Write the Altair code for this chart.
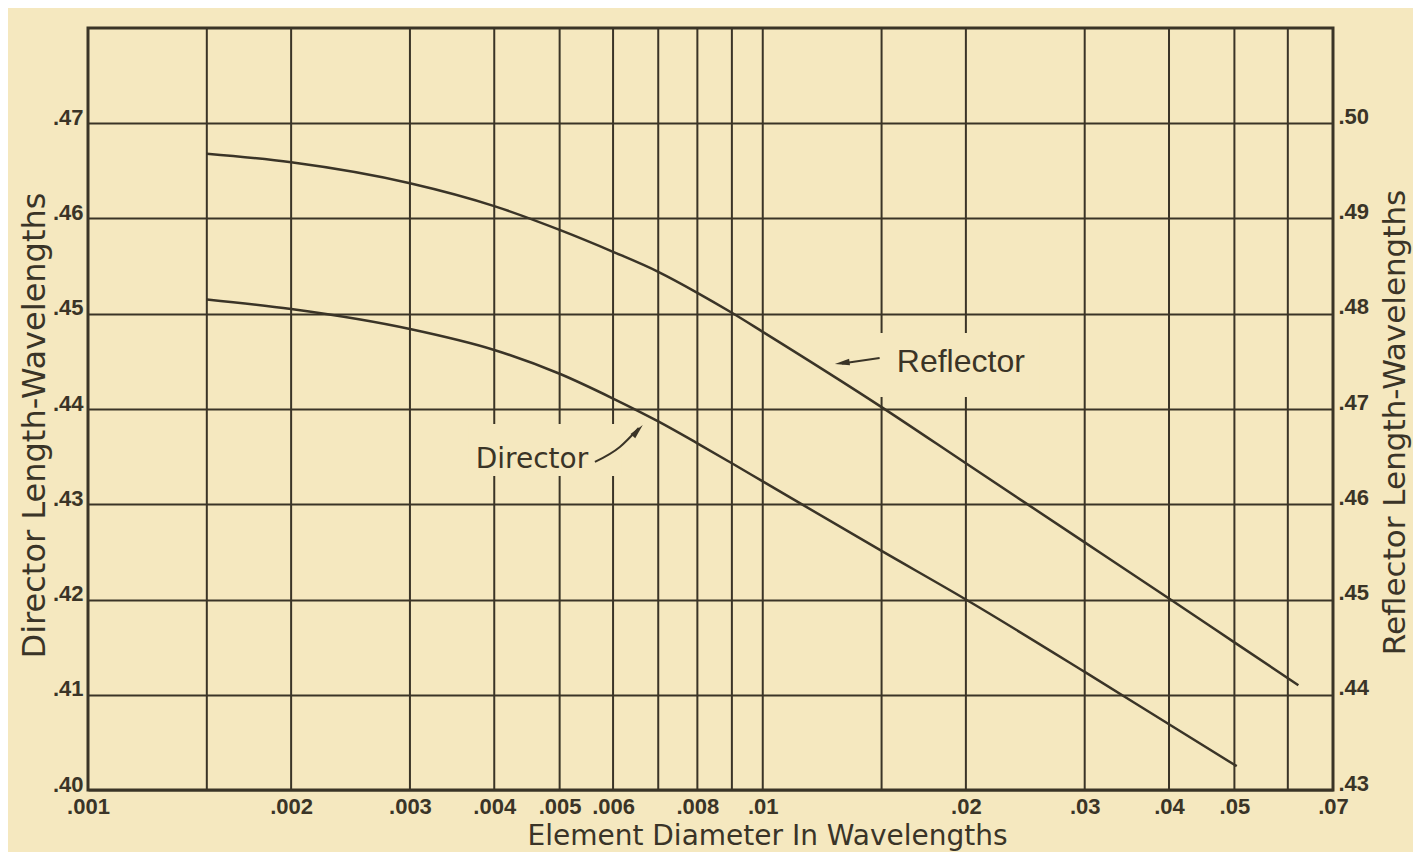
import altair as alt
import pandas as pd

# ---- data ----
x_tick_values = [0.001, 0.002, 0.003, 0.004, 0.005, 0.006, 0.008, 0.01, 0.02, 0.03, 0.04, 0.05, 0.07]
x_grid_values = [0.0015, 0.002, 0.003, 0.004, 0.005, 0.006, 0.007, 0.008, 0.009,
                 0.01, 0.015, 0.02, 0.03, 0.04, 0.05, 0.06]
left_y_values = [0.40, 0.41, 0.42, 0.43, 0.44, 0.45, 0.46, 0.47]
right_y_values = [0.43, 0.44, 0.45, 0.46, 0.47, 0.48, 0.49, 0.50]

reflector_x = [0.0015, 0.002, 0.003, 0.004, 0.005, 0.006, 0.007, 0.008, 0.009, 0.01,
               0.015, 0.02, 0.03, 0.04, 0.05, 0.0622]
reflector_y = [0.4968, 0.4959, 0.4937, 0.4913, 0.4888, 0.4865, 0.4844, 0.4822, 0.4801, 0.4781,
               0.4702, 0.4643, 0.4560, 0.4501, 0.4455, 0.4410]

director_x = [0.0015, 0.002, 0.003, 0.004, 0.005, 0.006, 0.007, 0.008, 0.009, 0.01,
              0.015, 0.02, 0.03, 0.04, 0.0504]
director_y = [0.4515, 0.4505, 0.4484, 0.4462, 0.4437, 0.4411, 0.4387, 0.4364, 0.4343, 0.4324,
              0.4251, 0.4200, 0.4124, 0.4069, 0.4025]

# annotation labels (left-axis units)
label_text = ["Reflector", "Director"]
label_x = [0.0158, 0.00455]
label_y = [0.4449, 0.43465]

# paper masks behind labels (gridlines broken there)
mask_x = [0.0148, 0.00366]
mask_x2 = [0.0257, 0.00618]
mask_y = [0.44798, 0.43843]
mask_y2 = [0.44126, 0.43297]

# arrow shafts
arrow_id = ["r", "r", "d", "d", "d"]
arrow_x = [0.0149, 0.0131, 0.00564, 0.00614, 0.00655]
arrow_y = [0.44535, 0.44478, 0.43444, 0.43601, 0.43800]
# arrow heads
head_x = [0.01279, 0.00664]
head_y = [0.44472, 0.43832]
head_angle = [262, 42]

BG = "#f5e8bf"
INK = "#3a3427"

xscale = alt.Scale(type="log", domain=[0.001, 0.07], nice=False)
yleft = alt.Scale(domain=[0.40, 0.48], nice=False, zero=False)
yright = alt.Scale(domain=[0.43, 0.51], nice=False, zero=False)

grid_df = pd.DataFrame({"x": x_grid_values})
dir_df = pd.DataFrame({"x": director_x, "y": director_y})
refl_df = pd.DataFrame({"x": reflector_x, "y": reflector_y})
lab_df = pd.DataFrame({"t": label_text, "x": label_x, "y": label_y})
mask_df = pd.DataFrame({"x": mask_x, "x2": mask_x2, "y": mask_y, "y2": mask_y2})
arr_df = pd.DataFrame({"id": arrow_id, "x": arrow_x, "y": arrow_y})
head_df = pd.DataFrame({"x": head_x, "y": head_y, "a": head_angle})

x_axis = alt.Axis(
    values=x_tick_values,
    labelExpr="substring(format(datum.value, '~g'), 1)",
    grid=False, ticks=False, domain=False,
    labelFont="Liberation Sans", labelFontSize=22, labelFontWeight="bold",
    labelColor=INK, labelPadding=6, labelFlush=False, labelOverlap=False,
    title="Element Diameter In Wavelengths",
    titleFont="DejaVu Sans", titleFontSize=28, titleFontWeight="normal", titleColor=INK,
    titleX=679, titleY=54, titleAlign="center", titleBaseline="alphabetic",
)

left_axis = alt.Axis(
    values=left_y_values,
    labelExpr="substring(format(datum.value, '.2f'), 1)",
    grid=True, gridColor=INK, gridWidth=2, gridOpacity=1,
    ticks=False, domain=False,
    labelFont="Liberation Sans", labelFontSize=22, labelFontWeight="bold",
    labelColor=INK, labelPadding=5, labelOffset=-6, labelFlush=False, labelOverlap=False,
    title="Director Length-Wavelengths",
    titleFont="DejaVu Sans", titleFontSize=32, titleFontWeight="normal", titleColor=INK,
    titleAngle=270, titleX=-54, titleY=397, titleAlign="center", titleBaseline="middle",
)

right_axis = alt.Axis(
    orient="right",
    values=right_y_values,
    labelExpr="substring(format(datum.value, '.2f'), 1)",
    grid=False, ticks=False, domain=False,
    labelFont="Liberation Sans", labelFontSize=22, labelFontWeight="bold",
    labelColor=INK, labelPadding=5, labelOffset=-7, labelFlush=False, labelOverlap=False,
    title="Reflector Length-Wavelengths",
    titleFont="DejaVu Sans", titleFontSize=31, titleFontWeight="normal", titleColor=INK,
    titleAngle=270, titleX=62, titleY=394, titleAlign="center", titleBaseline="middle",
)

X = alt.X("x:Q", scale=xscale, axis=x_axis)
YL = alt.Y("y:Q", scale=yleft, axis=left_axis)

rules = alt.Chart(grid_df).mark_rule(color=INK, strokeWidth=2).encode(x=X)

masks = alt.Chart(mask_df).mark_rect(color=BG, opacity=1).encode(
    x=X, x2="x2:Q", y=YL, y2="y2:Q",
)

director = alt.Chart(dir_df).mark_line(
    color=INK, strokeWidth=2.5, interpolate="monotone"
).encode(x=X, y=YL)

arrows = alt.Chart(arr_df).mark_line(
    color=INK, strokeWidth=2, interpolate="monotone"
).encode(x=X, y=YL, detail="id:N")

heads = alt.Chart(head_df).mark_point(
    shape="M0,0L0.28,1.3L-0.28,1.3Z", filled=True, color=INK, opacity=1, size=520
).encode(x=X, y=YL, angle=alt.Angle("a:Q", scale=None))

refl_label = alt.Chart(lab_df[lab_df.t == "Reflector"]).mark_text(
    font="Liberation Sans", fontSize=32, color=INK, align="left", baseline="middle"
).encode(x=X, y=YL, text="t:N")

dir_label = alt.Chart(lab_df[lab_df.t == "Director"]).mark_text(
    font="DejaVu Sans", fontSize=28, color=INK, align="center", baseline="middle"
).encode(x=X, y=YL, text="t:N")

left_group = alt.layer(rules, masks, director, arrows, heads, refl_label, dir_label)

reflector = alt.Chart(refl_df).mark_line(
    color=INK, strokeWidth=2.5, interpolate="monotone"
).encode(
    x=X,
    y=alt.Y("y:Q", scale=yright, axis=right_axis),
)

chart = (
    alt.layer(left_group, reflector)
    .resolve_scale(y="independent")
    .properties(
        width=1245,
        height=762,
        padding={"left": 80, "top": 20, "right": 80, "bottom": 62},
        autosize=alt.AutoSizeParams(type="none"),
        background=BG,
    )
    .configure_view(stroke=INK, strokeWidth=3)
)

chart.save("out.html", embed_options={"renderer": "svg", "actions": False})
